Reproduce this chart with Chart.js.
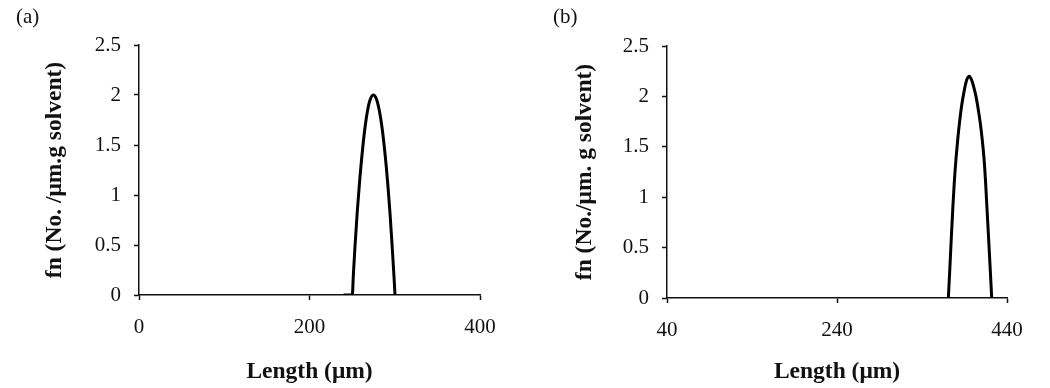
<!DOCTYPE html>
<html>
<head>
<meta charset="utf-8">
<script src="https://cdn.jsdelivr.net/npm/chart.js@4/dist/chart.umd.min.js"></script>
<style>
  body { margin: 0; background: #fff; }
  #wrap { position: relative; width: 1050px; height: 388px; overflow: hidden; }
  .panel { position: absolute; top: 0; width: 525px; height: 388px; }
  .tag { position: absolute; top: 4px; font: 21px "Liberation Serif", serif; color: #111; }
</style>
</head>
<body>
<div id="wrap">
  <div class="panel" style="left:0"><canvas id="chartA" width="525" height="388"></canvas></div>
  <div class="panel" style="left:525px"><canvas id="chartB" width="525" height="388"></canvas></div>
  <div class="tag" style="left:16px">(a)</div>
  <div class="tag" style="left:553px">(b)</div>
</div>
<script>
// panel (a)
var lenA = [240, 250, 250.2, 251.5, 253.4, 256, 259, 261, 263, 265.5, 268, 271, 274.8,
            278.5, 282, 285, 287.5, 290, 292, 294.5, 297, 299, 300.3];
var fnA  = [0, 0, 0, 0.21, 0.49, 0.83, 1.16, 1.35, 1.52, 1.7, 1.84, 1.95, 2.0,
            1.96, 1.84, 1.68, 1.5, 1.29, 1.09, 0.81, 0.48, 0.2, 0];
var xTicksA = [0, 200, 400];

// panel (b)
var lenB = [371, 372.8, 374.5, 376.3, 378, 380, 382, 384, 386.5, 389.5, 392.5, 395.6,
            398.5, 401, 403.5, 406, 408.5, 411, 413, 414.8, 416.5, 418.3, 420, 422];
var fnB  = [0, 0.3, 0.6, 0.9, 1.15, 1.38, 1.57, 1.73, 1.9, 2.05, 2.16, 2.2,
            2.16, 2.09, 2.0, 1.88, 1.74, 1.56, 1.38, 1.15, 0.88, 0.6, 0.33, 0];
var xTicksB = [40, 240, 440];

var yTicks = [0, 0.5, 1, 1.5, 2, 2.5];

function points(xs, ys) {
  var out = [];
  for (var i = 0; i < xs.length; i++) {
    out.push({x: xs[i], y: ys[i]});
  }
  return out;
}

function make_chart(id, xs, ys, xTicks, yTitle, box) {
  var axisColor = '#111';
  var tickFont = {family: 'Liberation Serif', size: 21};
  var titleFont = {family: 'Liberation Serif', size: 23.5, weight: 'bold'};
  return new Chart(document.getElementById(id), {
    type: 'line',
    data: {
      datasets: [{
        data: points(xs, ys),
        borderColor: '#000',
        borderWidth: 3,
        pointRadius: 0,
        fill: false,
        cubicInterpolationMode: 'monotone'
      }]
    },
    options: {
      responsive: false,
      animation: false,
      devicePixelRatio: 1,
      layout: {padding: {top: box.top, right: 525 - box.right, left: 0, bottom: 0}},
      plugins: {legend: {display: false}, tooltip: {enabled: false}},
      scales: {
        x: {
          type: 'linear',
          min: xTicks[0],
          max: xTicks[xTicks.length - 1],
          afterBuildTicks: function(s) { s.ticks = xTicks.map(function(v) { return {value: v}; }); },
          afterFit: function(s) { s.height = 388 - box.bottom; },
          border: {display: true, color: axisColor, width: 1.5},
          grid: {drawOnChartArea: false, drawTicks: true, tickLength: 5, color: axisColor, tickWidth: 1.5},
          ticks: {color: '#111', padding: 15, maxRotation: 0, font: tickFont,
                  callback: function(v) { return String(v); }},
          title: {display: true, text: 'Length (μm)', color: '#111', padding: {top: 0, bottom: 2},
                  font: titleFont}
        },
        y: {
          min: 0,
          max: 2.5,
          afterBuildTicks: function(s) { s.ticks = yTicks.map(function(v) { return {value: v}; }); },
          afterFit: function(s) { s.width = box.left; },
          border: {display: true, color: axisColor, width: 1.5},
          grid: {drawOnChartArea: false, drawTicks: true, tickLength: 5, color: axisColor, tickWidth: 1.5},
          ticks: {color: '#111', padding: 13, font: tickFont,
                  callback: function(v) { return String(v); }},
          title: {display: true, text: yTitle, color: '#111', padding: {top: box.titleX - 14, bottom: 0},
                  font: titleFont}
        }
      }
    }
  });
}

make_chart('chartA', lenA, fnA, xTicksA, 'fn (No. /μm.g solvent)',
  {left: 139, right: 480, top: 45, bottom: 295, titleX: 55});
make_chart('chartB', lenB, fnB, xTicksB, 'fn (No./μm. g solvent)',
  {left: 142, right: 482, top: 46, bottom: 298, titleX: 60});
</script>
</body>
</html>
